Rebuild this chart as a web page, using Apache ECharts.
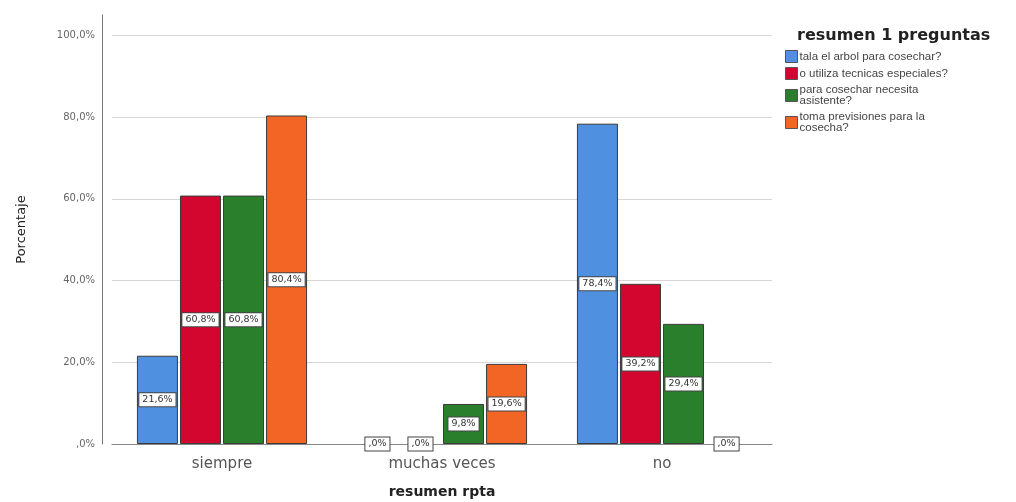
<!DOCTYPE html>
<html>
<head>
<meta charset="utf-8">
<script src="https://cdn.jsdelivr.net/npm/echarts@6/dist/echarts.min.js"></script>
<style>
  html, body { margin: 0; padding: 0; background: #fff; }
  #chart { width: 1016px; height: 502px; }
</style>
</head>
<body>
<div id="chart"></div>
<script>
// Categories of the answer summary (x axis)
const categories = ['siempre', 'muchas veces', 'no'];

// Question series names and their legend text (with line breaks)
const seriesNames = [
  'tala el arbol para cosechar?',
  'o utiliza tecnicas especiales?',
  'para cosechar necesita asistente?',
  'toma previsiones para la cosecha?'
];
const legendText = [
  'tala el arbol para cosechar?',
  'o utiliza tecnicas especiales?',
  'para cosechar necesita\nasistente?',
  'toma previsiones para la\ncosecha?'
];

// Percentages per question, one value per category
const talaArbol = [21.6, 0, 78.4];
const tecnicasEspeciales = [60.8, 0, 39.2];
const necesitaAsistente = [60.8, 9.8, 29.4];
const tomaPrevisiones = [80.4, 19.6, 0];
const seriesValues = [talaArbol, tecnicasEspeciales, necesitaAsistente, tomaPrevisiones];

const colors = ['#4f91e0', '#d3062f', '#2a7f2c', '#f26524'];

const WIDE = 'DejaVu Sans, Verdana, sans-serif';
const NARROW = 'Liberation Sans, Arial, sans-serif';

// Percent format with comma decimal, SPSS style (",0%")
function pct(v) {
  const s = v.toFixed(1).replace('.', ',');
  return (v === 0 ? ',0' : s) + '%';
}

const chart = echarts.init(document.getElementById('chart'), null, { renderer: 'canvas' });

const series = seriesNames.map((name, i) => ({
  name: name,
  type: 'bar',
  // empty bars keep their label but draw no outline
  data: seriesValues[i].map(v => v === 0 ? { value: v, itemStyle: { borderWidth: 0 } } : v),
  barWidth: 41,
  barGap: '5%',
  itemStyle: { color: colors[i], borderColor: '#3a3a3a', borderWidth: 1 },
  label: {
    show: true,
    position: 'inside',
    formatter: p => pct(p.value),
    color: '#333',
    fontFamily: WIDE,
    fontSize: 9.5,
    backgroundColor: '#fff',
    borderColor: '#444',
    borderWidth: 1,
    padding: [2, 3, 1, 3]
  },
  z: 2
}));

chart.setOption({
  backgroundColor: '#fff',
  animation: false,
  title: {
    text: 'resumen 1 preguntas',
    left: 792,
    top: 23,
    textStyle: { fontFamily: WIDE, fontSize: 16, fontWeight: 'bold', color: '#222' }
  },
  legend: {
    orient: 'vertical',
    left: 780,
    top: 45,
    icon: 'rect',
    itemWidth: 12,
    itemHeight: 12,
    itemGap: 4,
    data: seriesNames,
    formatter: name => legendText[seriesNames.indexOf(name)],
    textStyle: { fontFamily: NARROW, fontSize: 11.5, color: '#444', lineHeight: 11, padding: [0, 0, 0, -3] },
    itemStyle: { borderColor: '#555', borderWidth: 1 }
  },
  grid: { left: 112, right: 244, top: 15, bottom: 58, containLabel: false, outerBoundsMode: 'none' },
  xAxis: {
    type: 'category',
    data: categories,
    name: 'resumen rpta',
    nameLocation: 'middle',
    nameGap: 41,
    nameTextStyle: { fontFamily: WIDE, fontSize: 14, fontWeight: 'bold', color: '#222' },
    axisLine: { lineStyle: { color: '#888', width: 1 } },
    axisTick: { show: false },
    axisLabel: { fontFamily: WIDE, fontSize: 15, color: '#555', margin: 13 }
  },
  yAxis: {
    type: 'value',
    min: 0,
    max: 105,
    interval: 20,
    offset: 10,
    name: 'Porcentaje',
    nameLocation: 'middle',
    nameGap: 74,
    nameTextStyle: { fontFamily: WIDE, fontSize: 13, color: '#222' },
    axisLine: { show: true, lineStyle: { color: '#777', width: 1 } },
    axisTick: { show: false },
    axisLabel: {
      formatter: v => pct(v),
      showMaxLabel: false,
      fontFamily: WIDE,
      fontSize: 10,
      color: '#666',
      margin: 7
    },
    splitLine: { show: true, showMaxLine: false, lineStyle: { color: '#d6d6d6', width: 1 } }
  },
  series: series
});
</script>
</body>
</html>
